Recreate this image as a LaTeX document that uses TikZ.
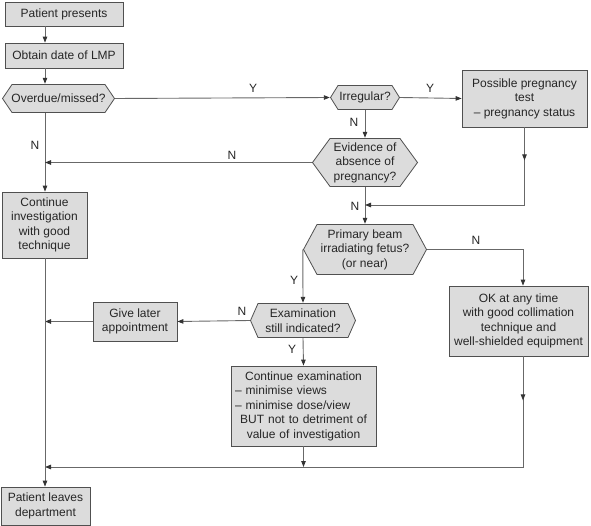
\documentclass[tikz,border=0pt]{standalone}
\usepackage{fontspec}
\setmainfont{Liberation Sans}
\usetikzlibrary{arrows.meta,decorations.markings,calc}
\definecolor{boxfill}{HTML}{DCDCDC}
\definecolor{boxline}{HTML}{505050}
\definecolor{connc}{HTML}{686868}
\begin{document}
\begin{tikzpicture}[x=1pt,y=-1pt,
  every node/.style={font=\fontsize{12}{14.5}\selectfont, text=black!85},
  box/.style={draw=boxline, fill=boxfill, line width=0.8pt, inner sep=2pt, align=center},
  hexa/.style={inner sep=2pt, align=center, path picture={
    \path[fill=boxfill, draw=boxline, line width=0.8pt]
      ([xshift=#1, yshift=-0.5pt]path picture bounding box.north west)
      -- ([xshift=-#1, yshift=-0.5pt]path picture bounding box.north east)
      -- ([xshift=-0.5pt]path picture bounding box.east)
      -- ([xshift=-#1, yshift=0.5pt]path picture bounding box.south east)
      -- ([xshift=#1, yshift=0.5pt]path picture bounding box.south west)
      -- ([xshift=0.5pt]path picture bounding box.west) -- cycle;}},
  conn/.style={draw=connc, line width=0.9pt},
  arr/.style={conn, -{Triangle[length=6pt,width=4.5pt,color=black!80]}},
  midarr/.style={postaction={decorate}, decoration={markings,
    mark=at position #1 with {\arrow{Triangle[length=6pt,width=4.5pt,color=black!80]}}}},
  lbl/.style={inner sep=1pt}
]
\useasboundingbox (0,0) rectangle (591,526);

% nodes
\node[box, minimum width=118pt, minimum height=24pt] (pp) at (64,14) {Patient presents};
\node[box, minimum width=118pt, minimum height=25pt] (lmp) at (64,55.5) {Obtain date of LMP};
\node[hexa=10pt, minimum width=113pt, minimum height=29pt] (ov) at (58.5,98.5) {Overdue/missed?};
\node[hexa=8pt, minimum width=70pt, minimum height=25pt] (irr) at (365,97.5) {Irregular?};
\node[box, minimum width=125pt, minimum height=57pt] (pt) at (524.5,98.5) {Possible pregnancy\\test\\– pregnancy status};
\node[hexa=18pt, minimum width=106pt, minimum height=49pt] (ev) at (365,162.5) {Evidence of\\absence of\\pregnancy?};
\node[box, minimum width=85pt, minimum height=66pt] (ci) at (44.5,225) {Continue\\investigation\\with good\\technique};
\node[hexa=14pt, minimum width=124pt, minimum height=51pt] (pb) at (365,249.5) {Primary beam\\irradiating fetus?\\(or near)};
\node[box, minimum width=139pt, minimum height=70pt] (ok) at (518.5,321) {OK at any time\\with good collimation\\technique and\\well-shielded equipment};
\node[hexa=8pt, minimum width=106pt, minimum height=35pt] (ex) at (303,320.5) {Examination\\still indicated?};
\node[box, minimum width=84pt, minimum height=39pt] (gl) at (135,321.5) {Give later\\appointment};
\node[box, minimum width=145pt, minimum height=80pt, text width=137pt] (ce) at (303.5,406) {Continue examination\\\makebox[137pt][l]{– minimise views}\\\makebox[137pt][l]{– minimise dose/view}\\BUT not to detriment of\\value of investigation};
\node[box, minimum width=89pt, minimum height=38pt] (pl) at (45.5,506) {Patient leaves\\department};

% helper coordinates
\coordinate (colA) at (45,0);
\coordinate (colD) at (523,0);
\coordinate (joinY) at (0,205);
\coordinate (mergeY) at (0,467);

% connectors
\draw[arr] (pp.south -| colA) -- (lmp.north -| colA);
\draw[arr] (lmp.south -| colA) -- (ov.north -| colA);
\draw[arr] (ov.east) -- (irr.west);
\draw[arr] (irr.east) -- (pt.west);
\draw[arr] (irr.south) -- (ev.north);
\draw[arr] (ov.south -| colA) -- (ci.north -| colA);
\draw[arr] (ev.west) -- (ev.west -| colA);
\draw[arr] (ev.south) -- (pb.north);
\draw[arr, midarr=33pt] (pt.south) -- (pt.south |- joinY) -- (ev.south |- joinY);
\draw[arr] (pb.east) -| (ok.north -| colD);
\draw[arr] (pb.west) -- (ex.north);
\draw[arr] (ex.west) -- (gl.east);
\draw[arr] (gl.west) -- (gl.west -| colA);
\draw[arr] (ex.south) -- (ce.north);
\draw[arr] (ce.south) -- (ce.south |- mergeY);
\draw[arr, midarr=44pt] (ok.south -| colD) -- (colD |- mergeY) -- (colA |- mergeY);
\draw[arr] (ci.south -| colA) -- (pl.north -| colA);

% labels
\node[lbl] (l1) at (253,88) {Y};
\node[lbl] (l2) at (430,88) {Y};
\node[lbl] (l3) at (354,122) {N};
\node[lbl] (l4) at (35,145) {N};
\node[lbl] (l5) at (232,155) {N};
\node[lbl] (l6) at (355,206) {N};
\node[lbl] (l7) at (476,240) {N};
\node[lbl] (l8) at (294,280) {Y};
\node[lbl] (l9) at (242,311) {N};
\node[lbl] (l10) at (292,349) {Y};
\end{tikzpicture}
\end{document}
